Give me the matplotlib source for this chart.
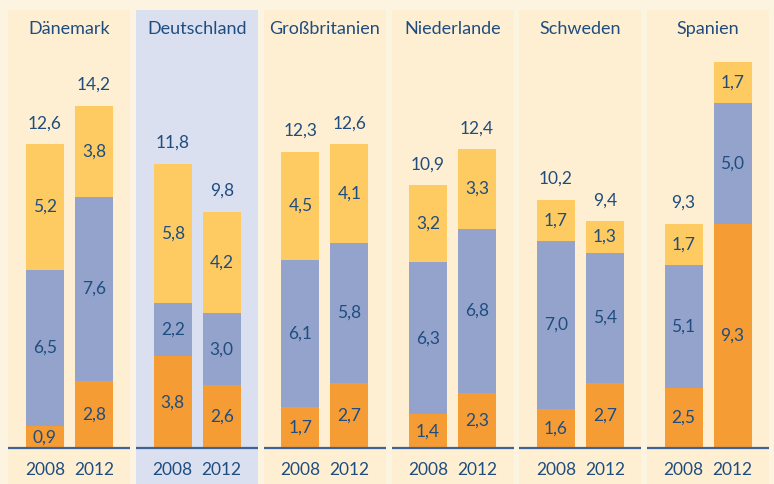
import matplotlib.pyplot as plt

countries = ["Dänemark", "Deutschland", "Großbritanien", "Niederlande", "Schweden", "Spanien"]
years = ["2008", "2012"]
# bottom (orange), middle (blue), top (yellow) per country: [2008, 2012]
orange = [[0.9, 2.8], [3.8, 2.6], [1.7, 2.7], [1.4, 2.3], [1.6, 2.7], [2.5, 9.3]]
blue = [[6.5, 7.6], [2.2, 3.0], [6.1, 5.8], [6.3, 6.8], [7.0, 5.4], [5.1, 5.0]]
yellow = [[5.2, 3.8], [5.8, 4.2], [4.5, 4.1], [3.2, 3.3], [1.7, 1.3], [1.7, 1.7]]
totals = [["12,6", "14,2"], ["11,8", "9,8"], ["12,3", "12,6"], ["10,9", "12,4"], ["10,2", "9,4"], ["9,3", ""]]

c_orange = "#f69c35"
c_blue = "#93a3cb"
c_yellow = "#fecb63"
c_text = "#1f4d80"
bg_outer = "#fdf3e1"
bg_panel = "#feefd2"
bg_de = "#dae0f0"

plt.rcParams["font.family"] = ["Lato", "DejaVu Sans"]

fig = plt.figure(figsize=(7.74, 4.84), dpi=100, facecolor=bg_outer)
ax = fig.add_axes([0, 0, 1, 1])
ax.set_facecolor(bg_outer)

step = 127.7  # px per panel
px_y = 24.1   # px per unit
ax.set_xlim(-69.5 / step, (774 - 69.5) / step)
ax.set_ylim(-36 / px_y, (484 - 36) / px_y)
ax.axis("off")

half = 61 / step
top_y = (484 - 36 - 10) / px_y
bot_y = -36 / px_y
off = 24.5 / step
bw = 38 / step

def fmt(v):
    return f"{v:.1f}".replace(".", ",")

for i, name in enumerate(countries):
    col = bg_de if name == "Deutschland" else bg_panel
    ax.fill_between([i - half, i + half], bot_y, top_y, color=col, lw=0, zorder=0)
    ax.plot([i - half, i + half], [0, 0], color="#3d6494", lw=1.6, zorder=3,
            solid_capstyle="butt")
    ax.text(i, (484 - 36 - 29) / px_y, name, ha="center", va="center",
            fontsize=13, color=c_text)
    for j in range(2):
        x = i - off if j == 0 else i + off
        o, b, y = orange[i][j], blue[i][j], yellow[i][j]
        ax.bar(x, o, bw, bottom=0, color=c_orange, zorder=2)
        ax.bar(x, b, bw, bottom=o, color=c_blue, zorder=2)
        ax.bar(x, y, bw, bottom=o + b, color=c_yellow, zorder=2)
        for val, base in [(o, 0), (b, o), (y, o + b)]:
            ax.text(x, base + val / 2, fmt(val), ha="center", va="center",
                    fontsize=12.5, color=c_text, zorder=4)
        if totals[i][j]:
            ax.text(x, o + b + y + 21 / px_y, totals[i][j], ha="center", va="center",
                    fontsize=12.5, color=c_text)
        ax.text(x, -22 / px_y, years[j], ha="center", va="center",
                fontsize=12.5, color=c_text)

fig.savefig("out.png", dpi=100, facecolor=bg_outer)
